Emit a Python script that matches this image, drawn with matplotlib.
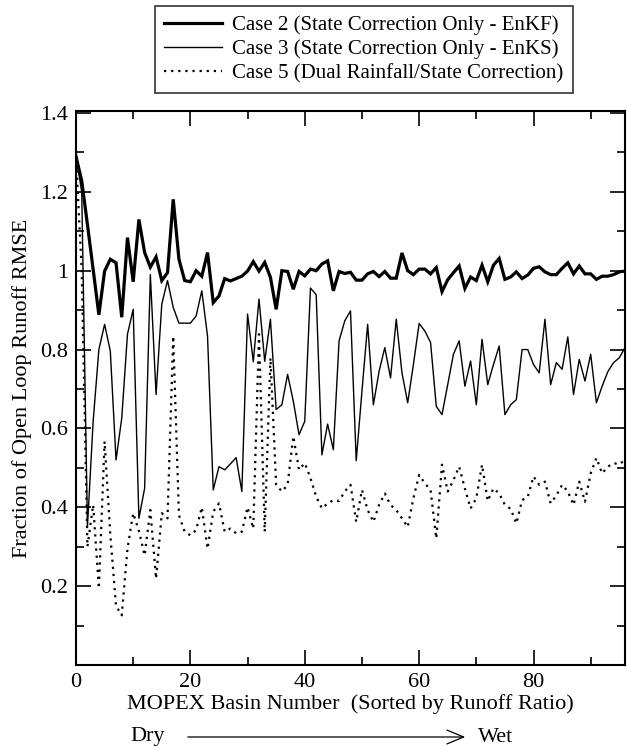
import numpy as np
import matplotlib
matplotlib.use("Agg")
import matplotlib.pyplot as plt
from matplotlib.ticker import MultipleLocator, FixedLocator

basin = list(range(97))

case2_enkf = [1.29, 1.228, 1.117, 1.003, 0.888, 0.999, 1.029, 1.02, 0.882, 1.084,
              0.972, 1.13, 1.046, 1.009, 1.035, 0.975, 0.995, 1.181, 1.029, 0.975,
              0.972, 1.0, 0.986, 1.046, 0.919, 0.936, 0.98, 0.974, 0.98, 0.986,
              0.999, 1.023, 0.999, 1.021, 0.983, 0.902, 1.0, 0.998, 0.953, 0.998,
              0.987, 1.004, 1.0, 1.017, 1.025, 0.949, 0.998, 0.993, 0.996, 0.976,
              0.976, 0.992, 0.998, 0.985, 0.998, 0.981, 0.981, 1.045, 1.0, 0.99,
              1.004, 1.004, 0.992, 1.008, 0.947, 0.977, 0.995, 1.012, 0.955, 0.984,
              0.975, 1.014, 0.972, 1.014, 1.031, 0.978, 0.984, 0.997, 0.98, 0.989,
              1.006, 1.01, 0.997, 0.99, 0.99, 1.006, 1.02, 0.992, 1.012, 0.992,
              0.992, 0.978, 0.986, 0.986, 0.99, 0.997, 0.999]

case3_enks = [1.29, 1.20, 0.35, 0.618, 0.80, 0.864, 0.796, 0.52, 0.626, 0.839,
              0.902, 0.372, 0.448, 0.99, 0.686, 0.915, 0.975, 0.907, 0.867, 0.867,
              0.867, 0.885, 0.949, 0.834, 0.444, 0.503, 0.495, 0.51, 0.526, 0.44,
              0.89, 0.769, 0.928, 0.77, 0.877, 0.648, 0.66, 0.737, 0.669, 0.584,
              0.618, 0.956, 0.939, 0.533, 0.611, 0.546, 0.822, 0.873, 0.898, 0.518,
              0.694, 0.864, 0.66, 0.745, 0.805, 0.728, 0.877, 0.741, 0.665, 0.762,
              0.866, 0.847, 0.818, 0.656, 0.635, 0.711, 0.788, 0.822, 0.707, 0.771,
              0.66, 0.826, 0.711, 0.762, 0.809, 0.635, 0.66, 0.673, 0.8, 0.8,
              0.762, 0.741, 0.877, 0.711, 0.767, 0.75, 0.832, 0.686, 0.775, 0.72,
              0.788, 0.665, 0.707, 0.744, 0.767, 0.779, 0.805]

case5_dual = [1.29, 1.0, 0.30, 0.406, 0.194, 0.567, 0.33, 0.15, 0.126, 0.295,
              0.385, 0.34, 0.278, 0.393, 0.219, 0.385, 0.372, 0.834, 0.38, 0.338,
              0.329, 0.342, 0.40, 0.295, 0.389, 0.41, 0.338, 0.346, 0.334, 0.338,
              0.40, 0.346, 0.839, 0.338, 0.779, 0.457, 0.44, 0.457, 0.58, 0.495,
              0.512, 0.474, 0.427, 0.397, 0.41, 0.418, 0.416, 0.44, 0.457, 0.363,
              0.444, 0.393, 0.363, 0.406, 0.435, 0.406, 0.393, 0.372, 0.35, 0.423,
              0.482, 0.461, 0.444, 0.321, 0.508, 0.44, 0.469, 0.503, 0.448, 0.397,
              0.423, 0.508, 0.416, 0.448, 0.435, 0.406, 0.396, 0.359, 0.418, 0.427,
              0.478, 0.457, 0.465, 0.41, 0.43, 0.457, 0.44, 0.406, 0.465, 0.414,
              0.486, 0.525, 0.486, 0.503, 0.512, 0.509, 0.52]

labels = ["Case 2 (State Correction Only - EnKF)",
          "Case 3 (State Correction Only - EnKS)",
          "Case 5 (Dual Rainfall/State Correction)"]

x_major = [0, 20, 40, 60, 80]
y_major = [0.2, 0.4, 0.6, 0.8, 1.0, 1.2, 1.4]
y_major_labels = ["0.2", "0.4", "0.6", "0.8", "1", "1.2", "1.4"]

plt.rcParams['font.family'] = ['Liberation Serif', 'DejaVu Serif']
plt.rcParams['font.size'] = 16

fig = plt.figure(figsize=(6.27, 7.46), dpi=100)
ax = fig.add_axes([76/627, 81/746, (625-76)/627, (665-111)/746])

l2, = ax.plot(basin, case2_enkf, color='black', lw=2.3, solid_joinstyle='miter')
l3, = ax.plot(basin, case3_enks, color='black', lw=1.0)
l5, = ax.plot(basin, case5_dual, color='black', lw=1.6, linestyle=(0, (1, 2.2)))

ax.set_xlim(0, 96)
ax.set_ylim(0, 1.405)
ax.xaxis.set_major_locator(FixedLocator(x_major))
ax.xaxis.set_minor_locator(MultipleLocator(10))
ax.yaxis.set_major_locator(FixedLocator(y_major))
ax.set_yticklabels(y_major_labels)
ax.yaxis.set_minor_locator(MultipleLocator(0.1))
ax.tick_params(which='both', direction='in', top=True, right=True, width=1.2,
               labelsize=16)
ax.tick_params(which='major', length=11)
ax.tick_params(axis='y', which='major', pad=5.5)
ax.tick_params(axis='x', which='major', pad=6)
ax.tick_params(which='minor', length=5.5)
for s in ax.spines.values():
    s.set_linewidth(1.5)

ax.set_ylabel("Fraction of Open Loop Runoff RMSE", fontsize=16, labelpad=6)
ax.set_xlabel("MOPEX Basin Number  (Sorted by Runoff Ratio)", fontsize=16, labelpad=1)

leg = fig.legend([l2, l3, l5], labels, loc='upper left',
                 bbox_to_anchor=(155/627, 1 - 6/746), fontsize=15,
                 frameon=True, fancybox=False, edgecolor='black',
                 handlelength=2.75, handletextpad=0.5, borderpad=0.45,
                 labelspacing=0.22, borderaxespad=0)
leg.get_frame().set_linewidth(1.2)

fig.text(130/627, 1 - 737/746, "Dry", fontsize=16, ha='left', va='center')
fig.text(478/627, 1 - 737/746, "Wet", fontsize=16, ha='left', va='center')
fig.add_artist(matplotlib.patches.FancyArrowPatch(
    (185/627, 1 - 737/746), (468/627, 1 - 737/746),
    transform=fig.transFigure, arrowstyle='->,head_length=12,head_width=5',
    lw=0.9, color='black', mutation_scale=1))

fig.savefig("out.png", dpi=100)
